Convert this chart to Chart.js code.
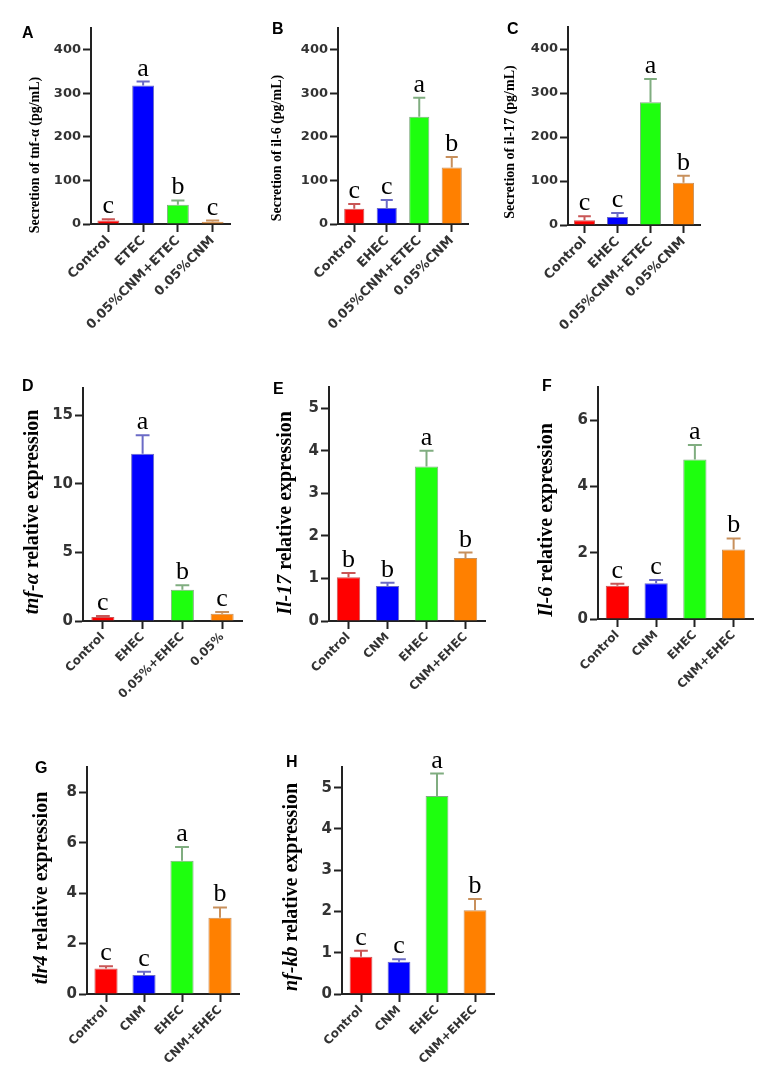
<!DOCTYPE html>
<html>
<head>
<meta charset="utf-8">
<script src="https://cdn.jsdelivr.net/npm/chart.js@4.4.0/dist/chart.umd.min.js"></script>
<style>
body { margin: 0; background: #fff; }
#fig { position: relative; width: 772px; height: 1084px; overflow: hidden; background: #fff; }
canvas { position: absolute; }
.tag { position: absolute; font: bold 16px "Liberation Sans", Arial, sans-serif; line-height: 16px; color: #000; }
</style>
</head>
<body>
<div id="fig">
  <canvas id="cA" width="250" height="330" style="left:0px;top:0px"></canvas>
  <canvas id="cB" width="250" height="330" style="left:250px;top:0px"></canvas>
  <canvas id="cC" width="272" height="330" style="left:500px;top:0px"></canvas>
  <canvas id="cD" width="250" height="370" style="left:0px;top:340px"></canvas>
  <canvas id="cE" width="250" height="370" style="left:250px;top:340px"></canvas>
  <canvas id="cF" width="272" height="370" style="left:500px;top:340px"></canvas>
  <canvas id="cG" width="250" height="384" style="left:0px;top:700px"></canvas>
  <canvas id="cH" width="260" height="384" style="left:250px;top:700px"></canvas>
  <div class="tag" style="left:22px;top:25px">A</div>
  <div class="tag" style="left:272px;top:21px">B</div>
  <div class="tag" style="left:507px;top:21px">C</div>
  <div class="tag" style="left:22px;top:378px">D</div>
  <div class="tag" style="left:273px;top:381px">E</div>
  <div class="tag" style="left:542px;top:378px">F</div>
  <div class="tag" style="left:35px;top:760px">G</div>
  <div class="tag" style="left:286px;top:754px">H</div>
</div>
<script>
// group names
var catsA = ['Control', 'ETEC', '0.05%CNM+ETEC', '0.05%CNM'];
var catsBC = ['Control', 'EHEC', '0.05%CNM+ETEC', '0.05%CNM'];
var catsD = ['Control', 'EHEC', '0.05%+EHEC', '0.05%'];
var catsEH = ['Control', 'CNM', 'EHEC', 'CNM+EHEC'];

// means and SEM
var tnfSecretion = [8, 318, 44, 5];
var tnfSecretionSem = [3, 9, 10, 3];
var il6Secretion = [35, 37, 246, 130];
var il6SecretionSem = [11, 18, 44, 24];
var il17Secretion = [11, 18, 279, 96];
var il17SecretionSem = [9, 9, 53, 16];
var tnfExpr = [0.3, 12.2, 2.28, 0.53];
var tnfExprSem = [0.06, 1.36, 0.32, 0.12];
var il17Expr = [1.03, 0.82, 3.63, 1.48];
var il17ExprSem = [0.1, 0.08, 0.37, 0.13];
var il6Expr = [1.0, 1.08, 4.81, 2.1];
var il6ExprSem = [0.06, 0.1, 0.44, 0.33];
var tlr4Expr = [1.01, 0.75, 5.28, 3.02];
var tlr4ExprSem = [0.09, 0.13, 0.55, 0.41];
var nfkbExpr = [0.9, 0.78, 4.8, 2.03];
var nfkbExprSem = [0.15, 0.06, 0.54, 0.27];

// significance letters
var sigA = ['c', 'a', 'b', 'c'];
var sigB = ['c', 'c', 'a', 'b'];
var sigC = ['c', 'c', 'a', 'b'];
var sigD = ['c', 'a', 'b', 'c'];
var sigE = ['b', 'b', 'a', 'b'];
var sigF = ['c', 'c', 'a', 'b'];
var sigG = ['c', 'c', 'a', 'b'];
var sigH = ['c', 'c', 'a', 'b'];

// y tick labels
var ticksSecretion = [0, 100, 200, 300, 400];
var ticksD = [0, 5, 10, 15];
var ticksE = [0, 1, 2, 3, 4, 5];
var ticksF = [0, 2, 4, 6];
var ticksG = [0, 2, 4, 6, 8];
var ticksH = [0, 1, 2, 3, 4, 5];

var barColors = ['#ff0000', '#0000ff', '#1eff0e', '#ff8000'];
var errColors = ['#c95656', '#6b6bc6', '#80ad80', '#c8905c'];

Chart.defaults.font.family = 'DejaVu Sans';

// error bars + letters above them
var marks = {
  id: 'marks',
  afterDatasetsDraw: function (chart) {
    var ctx = chart.ctx, ds = chart.data.datasets[0];
    var meta = chart.getDatasetMeta(0), y = chart.scales.y;
    ctx.save();
    meta.data.forEach(function (bar, i) {
      var top = y.getPixelForValue(ds.data[i] + ds.sem[i]);
      var half = bar.width * 0.3;
      ctx.strokeStyle = errColors[i];
      ctx.lineWidth = 2;
      ctx.beginPath();
      ctx.moveTo(bar.x, bar.y);
      ctx.lineTo(bar.x, top);
      ctx.moveTo(bar.x - half, top);
      ctx.lineTo(bar.x + half, top);
      ctx.stroke();
      ctx.fillStyle = '#000';
      ctx.font = '26px "Liberation Serif", serif';
      ctx.textAlign = 'center';
      ctx.textBaseline = 'alphabetic';
      ctx.fillText(ds.sig[i], bar.x, top - 6);
    });
    ctx.restore();
  }
};

// y title with optional italic gene name
var ytitle = {
  id: 'ytitle',
  afterDraw: function (chart, args, o) {
    var ctx = chart.ctx;
    ctx.save();
    ctx.translate(o.x, o.y);
    ctx.rotate(-Math.PI / 2);
    ctx.fillStyle = '#000';
    ctx.textBaseline = 'middle';
    ctx.textAlign = 'left';
    var fonts = o.parts.map(function (p) {
      return (p.italic ? 'italic ' : '') + 'bold ' + o.size + 'px "Liberation Serif", serif';
    });
    var total = 0;
    o.parts.forEach(function (p, i) { ctx.font = fonts[i]; total += ctx.measureText(p.text).width; });
    var x = -total / 2;
    o.parts.forEach(function (p, i) {
      ctx.font = fonts[i];
      ctx.fillText(p.text, x, 0);
      x += ctx.measureText(p.text).width;
    });
    ctx.restore();
  }
};

function panel(id, box, cats, vals, sem, sig, yMax, ticks, title, tickSize, labelSize) {
  var W = box.w, H = box.h;
  new Chart(document.getElementById(id), {
    type: 'bar',
    data: {
      labels: cats,
      datasets: [{
        data: vals,
        sem: sem,
        sig: sig,
        backgroundColor: barColors,
        borderColor: errColors,
        borderWidth: 1,
        barPercentage: box.bar,
        categoryPercentage: 1
      }]
    },
    options: {
      responsive: false,
      animation: false,
      layout: { padding: { left: 0, top: box.axisTop - box.top, right: box.left + W - box.axisEnd, bottom: 0 } },
      plugins: {
        legend: { display: false },
        tooltip: { enabled: false },
        ytitle: { x: box.tx - box.left, y: box.ty - box.top, size: title.size, parts: title.parts }
      },
      scales: {
        x: {
          offset: true,
          grid: { offset: false, drawOnChartArea: false, tickLength: 8, tickWidth: 2, tickColor: '#222' },
          border: { display: true, color: '#222', width: 2 },
          ticks: { autoSkip: false, minRotation: 45, maxRotation: 45, padding: 1, color: '#333',
                   font: { size: labelSize, weight: 'bold' } },
          afterFit: function (s) { s.height = box.top + H - box.axisY; }
        },
        y: {
          min: 0,
          max: yMax,
          grid: { drawOnChartArea: false, tickLength: 8, tickWidth: 2, tickColor: '#222' },
          border: { display: true, color: '#222', width: 2 },
          ticks: { padding: 2, color: '#333', font: { size: tickSize, weight: 'bold' } },
          afterBuildTicks: function (s) { s.ticks = ticks.map(function (v) { return { value: v }; }); },
          afterFit: function (s) { s.width = box.axisX - box.left; }
        }
      }
    },
    plugins: [marks, ytitle]
  });
}

function secTitle(gene) {
  return { size: 14, parts: [{ text: 'Secretion of ' + gene + ' (pg/mL)', italic: false }] };
}
function exprTitle(gene) {
  return { size: 20, parts: [{ text: gene, italic: true }, { text: ' relative expression', italic: false }] };
}

panel('cA', { left: 0, top: 0, w: 250, h: 330, axisX: 91, axisTop: 28, axisY: 224, axisEnd: 230, tx: 35, ty: 155, bar: 0.63 },
  catsA, tnfSecretion, tnfSecretionSem, sigA, 450, ticksSecretion, secTitle('tnf-α'), 13, 13);
panel('cB', { left: 250, top: 0, w: 250, h: 330, axisX: 338, axisTop: 28, axisY: 224, axisEnd: 468, tx: 277, ty: 148, bar: 0.62 },
  catsBC, il6Secretion, il6SecretionSem, sigB, 450, ticksSecretion, secTitle('il-6'), 13, 13);
panel('cC', { left: 500, top: 0, w: 272, h: 330, axisX: 568, axisTop: 27, axisY: 225, axisEnd: 700, tx: 510, ty: 142, bar: 0.64 },
  catsBC, il17Secretion, il17SecretionSem, sigC, 450, ticksSecretion, secTitle('il-17'), 13, 13);
panel('cD', { left: 0, top: 340, w: 250, h: 370, axisX: 83, axisTop: 388, axisY: 621, axisEnd: 242, tx: 33, ty: 512, bar: 0.58 },
  catsD, tnfExpr, tnfExprSem, sigD, 17, ticksD, exprTitle('tnf-α'), 15, 12);
panel('cE', { left: 250, top: 340, w: 250, h: 370, axisX: 329, axisTop: 387, axisY: 621, axisEnd: 485, tx: 286, ty: 513, bar: 0.6 },
  catsEH, il17Expr, il17ExprSem, sigE, 5.5, ticksE, exprTitle('Il-17'), 15, 12);
panel('cF', { left: 500, top: 340, w: 272, h: 370, axisX: 598, axisTop: 387, axisY: 619, axisEnd: 753, tx: 547, ty: 520, bar: 0.6 },
  catsEH, il6Expr, il6ExprSem, sigF, 7, ticksF, exprTitle('Il-6'), 15, 12);
panel('cG', { left: 0, top: 700, w: 250, h: 384, axisX: 87, axisTop: 767, axisY: 994, axisEnd: 239, tx: 42, ty: 888, bar: 0.61 },
  catsEH, tlr4Expr, tlr4ExprSem, sigG, 9, ticksG, exprTitle('tlr4'), 15, 12);
panel('cH', { left: 250, top: 700, w: 260, h: 384, axisX: 342, axisTop: 767, axisY: 994, axisEnd: 494, tx: 292, ty: 887, bar: 0.6 },
  catsEH, nfkbExpr, nfkbExprSem, sigH, 5.5, ticksH, exprTitle('nf-kb'), 15, 12);
</script>
</body>
</html>
